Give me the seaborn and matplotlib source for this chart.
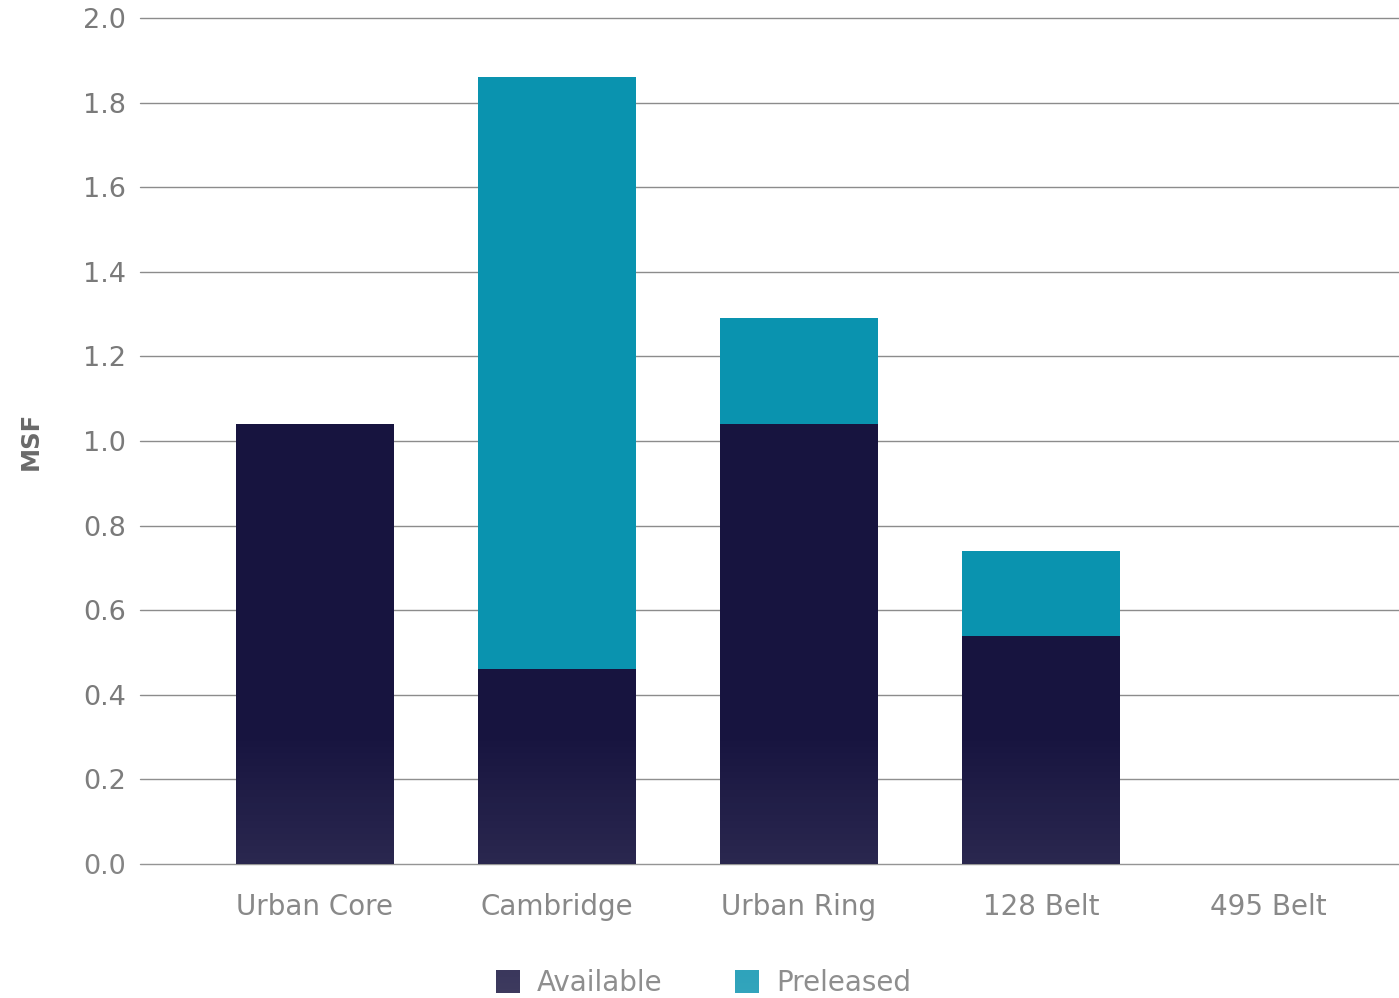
import numpy as np
import pandas as pd
import matplotlib
matplotlib.use("Agg")
import matplotlib.pyplot as plt
import matplotlib.transforms as mtransforms
from matplotlib.patches import Patch
import seaborn as sns

categories = ["Urban Core", "Cambridge", "Urban Ring", "128 Belt", "495 Belt"]
available = [1.04, 0.46, 1.04, 0.54, 0.0]
preleased = [0.0, 1.40, 0.25, 0.20, 0.0]
y_ticks = [0.0, 0.2, 0.4, 0.6, 0.8, 1.0, 1.2, 1.4, 1.6, 1.8, 2.0]

C_AVAIL = "#17143f"
C_PRE = "#0a93af"
GRAY = "#7a7a7a"

sns.set_theme(style="white")
plt.rcParams["font.family"] = ["DejaVu Sans"]

df = pd.DataFrame({
    "cat": categories,
    "available": available,
    "total": [a + p for a, p in zip(available, preleased)],
})

fig = plt.figure(figsize=(13.99, 9.98), dpi=100)
ax = fig.add_axes([0.1, 0.1343, 0.9, 0.8477])

sns.barplot(data=df, x="cat", y="total", color=C_PRE, width=0.65,
            saturation=1, ax=ax, zorder=3, edgecolor="none")
sns.barplot(data=df, x="cat", y="available", color=C_AVAIL, width=0.65,
            saturation=1, ax=ax, zorder=4, edgecolor="none")

ax.set_ylim(0, 2.0)
ax.set_xlim(-0.723, 4.479)
ax.set_yticks(y_ticks)
ax.set_yticklabels([f"{v:.1f}" for v in y_ticks])
ax.xaxis.grid(False)
ax.yaxis.grid(False)
for v in y_ticks:
    ax.axhline(v, color="#8c8c8c", linewidth=1.0, zorder=1, clip_on=False)
for s in ax.spines.values():
    s.set_visible(False)
ax.tick_params(axis="y", length=0, pad=10, labelsize=19.5, labelcolor=GRAY)
ax.tick_params(axis="x", length=0, pad=21, labelsize=20, labelcolor=GRAY)
ax.set_xlabel("")
ax.set_ylabel("MSF", fontsize=17.5, fontweight="bold", color="#6a6a6a")
ax.yaxis.set_label_coords(-0.077, 0.5)

# shift last tick label slightly left as in reference
lbls = ax.get_xticklabels()
lbls[-1].set_transform(lbls[-1].get_transform() +
                       mtransforms.ScaledTranslation(-15 / 100, 0, fig.dpi_scale_trans))

handles = [Patch(facecolor=C_AVAIL, edgecolor="none", label="Available"),
           Patch(facecolor=C_PRE, edgecolor="none", label="Preleased")]
fig.legend(handles=handles, loc="center", bbox_to_anchor=(0.503, 0.015), ncol=2,
           frameon=False, fontsize=20, labelcolor=GRAY, handlelength=0.86,
           handleheight=0.86, handletextpad=0.62, columnspacing=2.6)

# subtle white fade at the bottom of the image
ov = fig.add_axes([0, 0, 1, 1], zorder=10)
ov.set_axis_off()
h = 998
yy = np.linspace(1, 0, h)  # top -> bottom in figure fraction
alpha = np.clip((0.27 - yy) / 0.27, 0, 1) * 0.17
img = np.ones((h, 1, 4))
img[:, 0, 3] = alpha
ov.imshow(img, aspect="auto", extent=[0, 1, 0, 1], origin="upper")
ov.set_xlim(0, 1)
ov.set_ylim(0, 1)

fig.savefig("out.png", dpi=100)
